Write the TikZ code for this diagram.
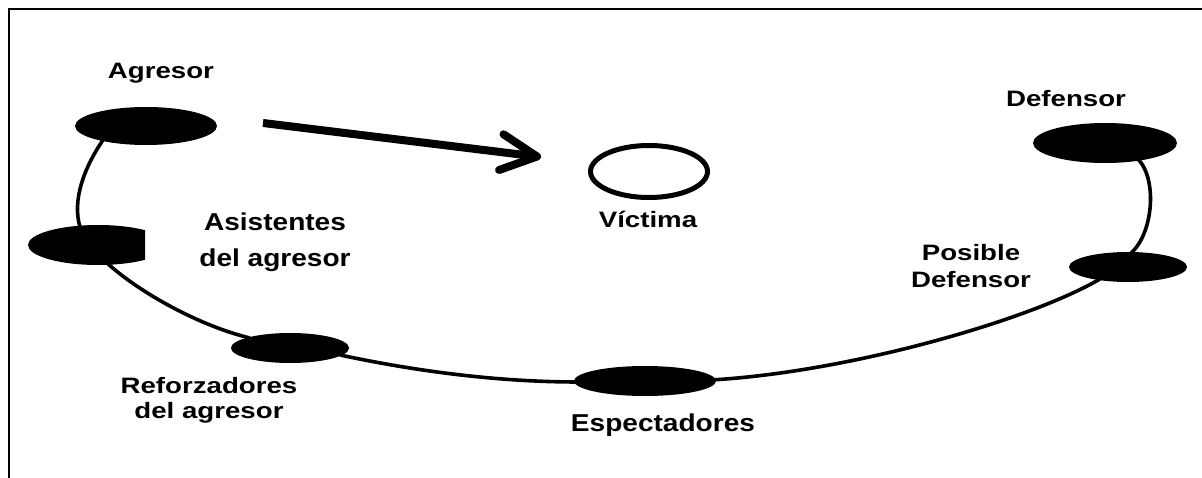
\documentclass[tikz,border=0pt]{standalone}
\usepackage{fontspec}
\setmainfont{Liberation Sans}
\newfontfamily\lblfont[FakeStretch=1.24]{Liberation Sans}
\newfontfamily\bigfont[FakeStretch=1.15]{Liberation Sans}
\usetikzlibrary{shapes.geometric,arrows.meta}
\begin{document}
\begin{tikzpicture}[x=1pt,y=-1pt,
  blob/.style={ellipse, fill=black, draw=none, inner sep=0pt},
  ring/.style={ellipse, draw=black, line width=5pt, inner sep=0pt, minimum width=117pt, minimum height=52pt},
  lbl/.style={font=\lblfont\bfseries\fontsize{22.3}{28}\selectfont, anchor=base, align=center, inner sep=0pt},
  biglbl/.style={font=\bigfont\bfseries\fontsize{24.4}{36}\selectfont, anchor=base, align=center, inner sep=0pt},
  link/.style={line width=3.6pt},
  frame/.style={line width=2.7pt},
  push/.style={line width=8pt, -{Straight Barb[length=36pt,width=36pt,line cap=round,line join=round]}}
]
\useasboundingbox (0,0) rectangle (1202,478);
% frame (top and left edges)
\coordinate (f1) at (9,478);
\coordinate (f2) at (9,9);
\coordinate (f3) at (1202,9);
\draw[frame] (f1) -- (f2) -- (f3);

% role ellipses
\node[blob, minimum width=142pt, minimum height=38pt] (A) at (146,126) {};
\node[blob, minimum width=144pt, minimum height=40pt] (D) at (1105,143) {};
\begin{scope}
  \clip (0,0) rectangle (145,478);
  \node[blob, minimum width=140pt, minimum height=40pt] (AS) at (98,245) {};
\end{scope}
\node[blob, minimum width=118pt, minimum height=30pt] (R) at (290,348) {};
\node[blob, minimum width=142pt, minimum height=30pt] (E) at (645,381) {};
\node[blob, minimum width=118pt, minimum height=30pt] (P) at (1128,267) {};
\node[ring] (V) at (649,171.5) {};

% circle of participants
\draw[link] ([shift={(-43,14)}]A.center) .. controls (84,168) and (72,200) .. ([shift={(-18,-18)}]AS.center);
\draw[link] ([shift={(9,18)}]AS.center) .. controls (140,293) and (200,326) .. ([shift={(-40,-10)}]R.center);
\draw[link] ([shift={(50,7)}]R.center) .. controls (420,372) and (500,382) .. ([shift={(-66,1)}]E.center);
\draw[link] ([shift={(66,-1)}]E.center) .. controls (850,372) and (1030,320) .. ([shift={(-28,12)}]P.center);
\draw[link] ([shift={(2,-13)}]P.center) .. controls (1153,235) and (1158,180) .. ([shift={(33,16)}]D.center);

% aggression arrow
\coordinate (ar1) at (263,123);
\coordinate (ar2) at (541,157);
\draw[push] (ar1) -- (ar2);

% labels
\node[lbl] (tA) at (161,79) {Agresor};
\node[lbl] (tD) at (1066,107) {Defensor};
\node[lbl] (tV) at (648,228) {Víctima};
\node[lbl] (tP) at (971,288) {Posible\\Defensor};
\node[lbl, font=\lblfont\bfseries\fontsize{22.3}{24.5}\selectfont] (tR) at (209,418) {Reforzadores\\del agresor};
\node[biglbl] (tAS) at (275,267) {Asistentes\\del agresor};
\node[biglbl] (tE) at (663,431) {Espectadores};
\end{tikzpicture}
\end{document}
